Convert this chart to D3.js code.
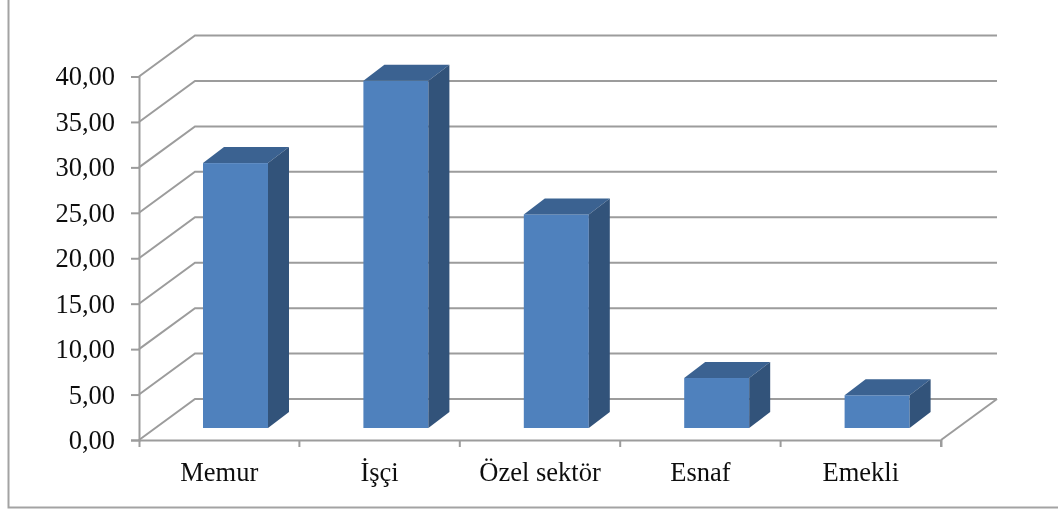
<!DOCTYPE html>
<html>
<head>
<meta charset="utf-8">
<style>
html, body { margin: 0; padding: 0; background: #fff; }
svg { display: block; }
</style>
</head>
<body>
<svg width="1058" height="509"></svg>
<script src="https://d3js.org/d3.v7.min.js"></script>
<script>
var categories = ["Memur", "İşçi", "Özel sektör", "Esnaf", "Emekli"];
var values = [29.15, 38.2, 23.5, 5.5, 3.6];
var yTicks = [0, 5, 10, 15, 20, 25, 30, 35, 40];

var svg = d3.select("svg");
var gridColor = "#9c9c9c", barFront = "#4f81bd", barTop = "#3a6291", barSide = "#32527a";

// the reference is a soft, scaled-up bitmap
svg.append("defs").append("filter")
  .attr("id", "soft")
  .append("feGaussianBlur")
  .attr("stdDeviation", 0.45);

var root = svg.append("g").attr("filter", "url(#soft)");

// only the left and bottom sides of the frame are in the picture
root.append("path")
  .attr("d", "M8.5,-5V507.5H1063")
  .attr("fill", "none")
  .attr("stroke", "#a3a3a3")
  .attr("stroke-width", 2);

var x = d3.scaleBand().domain(categories).range([139, 941]);
var y = d3.scaleLinear().domain([0, 40]).range([440, 76.5]);

// the back wall sits up and to the right of the axis plane
var depthX = 56, depthY = -41;
var fmt = function(d) { return d3.format(".2f")(d).replace(".", ","); };

var grid = root.append("g")
  .attr("fill", "none")
  .attr("stroke", gridColor)
  .attr("stroke-width", 2);

grid.selectAll("path")
  .data(yTicks)
  .enter().append("path")
  .attr("d", function(d) {
    return "M139," + y(d) + "L" + (139 + depthX) + "," + (y(d) + depthY) + "H" + (941 + depthX);
  });

// floor edge on the right
grid.append("path")
  .attr("d", "M941," + y(0) + "L" + (941 + depthX) + "," + (y(0) + depthY));

var yAxis = d3.axisLeft(y).tickValues(yTicks).tickFormat(fmt).tickSize(8).tickPadding(16);
var xAxis = d3.axisBottom(x).tickSize(7).tickSizeOuter(7).tickPadding(15);

var gy = root.append("g").attr("transform", "translate(139,0)").call(yAxis);
var gx = root.append("g").attr("transform", "translate(0,440)").call(xAxis);
gx.selectAll(".tick line").remove();

// x ticks between the categories
gx.selectAll("line.sep")
  .data(categories)
  .enter().append("line")
  .attr("class", "sep")
  .attr("x1", function(d) { return x(d) + x.bandwidth(); })
  .attr("x2", function(d) { return x(d) + x.bandwidth(); })
  .attr("y1", 0)
  .attr("y2", 7);

root.selectAll(".domain, .tick line, line.sep")
  .attr("stroke", gridColor)
  .attr("stroke-width", 2);
root.selectAll(".tick text")
  .style("font-family", '"Liberation Serif", serif')
  .style("font-size", "26.5px")
  .attr("fill", "#111");

// 3d bars
var barW = 65, barDX = 16.3, barDY = -12, sideX = 21, sideY = -16;
var bars = root.append("g").selectAll("g")
  .data(values)
  .enter().append("g")
  .attr("transform", function(d, i) {
    return "translate(" + (x(categories[i]) + x.bandwidth() / 2 - barW / 2 + barDX) + "," + barDY + ")";
  });

bars.append("rect")
  .attr("x", 0)
  .attr("y", function(d) { return y(d); })
  .attr("width", barW)
  .attr("height", function(d) { return y(0) - y(d); })
  .attr("fill", barFront);

bars.append("path")
  .attr("fill", barTop)
  .attr("d", function(d) {
    return "M0," + y(d) + "l" + sideX + "," + sideY + "h" + barW + "l" + (-sideX) + "," + (-sideY) + "z";
  });

bars.append("path")
  .attr("fill", barSide)
  .attr("d", function(d) {
    return "M" + barW + "," + y(d) + "l" + sideX + "," + sideY + "V" + (y(0) + sideY) + "l" + (-sideX) + "," + (-sideY) + "z";
  });
</script>
</body>
</html>
